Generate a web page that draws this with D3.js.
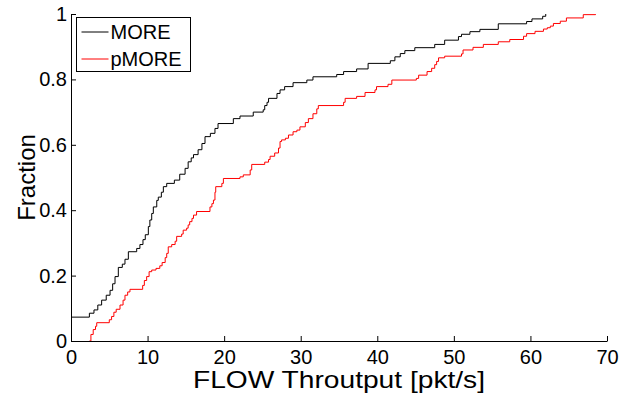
<!DOCTYPE html>
<html>
<head>
<meta charset="utf-8">
<script src="https://cdn.jsdelivr.net/npm/d3@7"></script>
<style>
  body { margin: 0; background: #fff; }
  text { font-family: Arial, "Liberation Sans", Helvetica, sans-serif; }
</style>
</head>
<body>
<div id="chart"></div>
<script>
const width = 619;
const height = 395;

// step points of the empirical CDFs (throughput, fraction)
const moreX = [0, 2.4, 3.0, 3.5, 4.0, 4.6, 5.1, 5.44, 5.75, 6.18, 6.7, 7.05, 7.49, 8.58, 9.0, 9.4, 9.7, 10.1, 10.3, 10.54,
  10.75, 11.2, 11.4, 11.8, 12.06, 12.5, 13.5, 14.2, 14.9, 15.3, 15.7, 16.0, 16.6, 17.1, 17.5, 18.2, 18.8, 19.2, 21.2, 22.07,
  23.8, 25.1, 25.3, 25.6, 25.8, 26.9, 27.3, 27.9, 29.0, 30.8, 31.6, 34.7, 35.6, 37.3, 38.8, 41.7, 42.3, 43.0, 43.6, 44.9,
  47.5, 48.8, 50.6, 51.0, 52.1, 53.4, 55.8, 59.5, 60.2, 61.6, 62.0];
const moreY = [0.073, 0.085, 0.095, 0.11, 0.125, 0.14, 0.155, 0.175, 0.197, 0.225, 0.235, 0.25, 0.273, 0.283, 0.295, 0.31, 0.325, 0.35, 0.37, 0.39,
  0.41, 0.43, 0.44, 0.455, 0.472, 0.482, 0.492, 0.51, 0.528, 0.548, 0.56, 0.57, 0.585, 0.604, 0.625, 0.635, 0.65, 0.665, 0.68, 0.688,
  0.70, 0.707, 0.72, 0.73, 0.742, 0.757, 0.768, 0.778, 0.79, 0.798, 0.808, 0.815, 0.824, 0.832, 0.849, 0.857, 0.869, 0.879, 0.888, 0.897,
  0.907, 0.92, 0.931, 0.938, 0.946, 0.953, 0.97, 0.977, 0.985, 0.993, 1.0];

const pmoreX = [2.4, 2.6, 2.9, 3.2, 3.36, 5.0, 5.3, 5.6, 5.9, 6.4, 6.8, 7.05, 7.4, 7.7, 9.36, 9.58, 9.88, 10.2, 10.54, 11.1,
  11.6, 11.9, 12.3, 12.5, 12.7, 13.15, 13.6, 13.8, 14.45, 14.65, 15.1, 15.3, 15.5, 15.8, 16.0, 16.4, 18.15, 18.4, 18.6, 18.8,
  18.9, 19.7, 19.9, 22.07, 22.5, 23.4, 23.6, 25.3, 25.8, 26.0, 26.6, 27.1, 27.3, 27.5, 28.0, 28.4, 29.0, 29.5, 29.9, 30.6,
  31.0, 31.6, 32.1, 32.3, 35.6, 35.8, 37.3, 38.4, 39.7, 39.9, 41.4, 41.9, 45.1, 45.4, 46.5, 47.1, 47.5, 47.75, 48.0, 48.8,
  51.0, 51.2, 52.5, 53.85, 55.8, 57.3, 59.1, 59.5, 60.6, 61.7, 62.2, 62.6, 63.0, 63.9, 64.7, 66.9, 68.5];
const pmoreY = [0.0, 0.02, 0.035, 0.045, 0.056, 0.065, 0.075, 0.088, 0.097, 0.11, 0.125, 0.14, 0.15, 0.158, 0.17, 0.185, 0.197, 0.212, 0.217, 0.222,
  0.23, 0.24, 0.255, 0.268, 0.288, 0.295, 0.305, 0.32, 0.327, 0.339, 0.345, 0.355, 0.365, 0.375, 0.385, 0.396, 0.41, 0.42, 0.431, 0.455,
  0.472, 0.482, 0.497, 0.502, 0.508, 0.523, 0.54, 0.547, 0.555, 0.565, 0.575, 0.59, 0.61, 0.615, 0.62, 0.63, 0.64, 0.645, 0.655, 0.668,
  0.68, 0.695, 0.71, 0.72, 0.73, 0.742, 0.748, 0.76, 0.768, 0.778, 0.785, 0.798, 0.803, 0.813, 0.824, 0.834, 0.845, 0.855, 0.866, 0.871,
  0.878, 0.89, 0.898, 0.907, 0.915, 0.922, 0.932, 0.94, 0.947, 0.954, 0.958, 0.963, 0.971, 0.978, 0.988, 0.998, 1.0];

const xTicks = [0, 10, 20, 30, 40, 50, 60, 70];
const yTicks = [0, 0.2, 0.4, 0.6, 0.8, 1];
const seriesNames = ["MORE", "pMORE"];
const seriesColors = ["#000000", "#ff0000"];

const margin = {top: 14, right: 12, bottom: 54, left: 71};
const innerW = width - margin.left - margin.right;
const innerH = height - margin.top - margin.bottom;

const svg = d3.select("#chart")
    .append("svg")
    .attr("width", width)
    .attr("height", height);

const g = svg.append("g").attr("transform", `translate(${margin.left},${margin.top})`);

const x = d3.scaleLinear().domain([0, 70]).range([0, innerW]);
const y = d3.scaleLinear().domain([0, 1]).range([innerH, 0]);

const line = d3.line()
    .x(d => x(d[0]))
    .y(d => y(d[1]))
    .curve(d3.curveStepAfter);

const series = [
    d3.zip(moreX, moreY),
    d3.zip(pmoreX, pmoreY)
];

series.forEach((pts, i) => {
    g.append("path")
        .datum(pts)
        .attr("fill", "none")
        .attr("stroke", seriesColors[i])
        .attr("stroke-width", 1)
        .attr("d", line);
});

// axes (ticks pointing inward, MATLAB style)
const xAxis = g.append("g")
    .attr("transform", `translate(0,${innerH})`)
    .call(d3.axisBottom(x).tickValues(xTicks).tickSizeInner(-5).tickSizeOuter(0).tickPadding(9));

const yAxis = g.append("g")
    .call(d3.axisLeft(y).tickValues(yTicks).tickFormat(d3.format("")).tickSizeInner(-5).tickSizeOuter(0).tickPadding(4));

[xAxis, yAxis].forEach(ax => {
    ax.selectAll("text").style("font-size", "20px").attr("fill", "#000");
    ax.selectAll("line").attr("stroke", "#000");
    ax.select(".domain").attr("stroke", "#000");
});

// axis titles
svg.append("text")
    .attr("x", margin.left + innerW / 2)
    .attr("y", 388)
    .attr("text-anchor", "middle")
    .attr("textLength", 292)
    .attr("lengthAdjust", "spacingAndGlyphs")
    .style("font-size", "24px")
    .text("FLOW Throutput [pkt/s]");

svg.append("text")
    .attr("transform", `translate(35,${margin.top + innerH / 2}) rotate(-90)`)
    .attr("text-anchor", "middle")
    .style("font-size", "24px")
    .text("Fraction");

// legend
const legend = svg.append("g").attr("transform", "translate(76.5,17.5)");
legend.append("rect")
    .attr("width", 114)
    .attr("height", 54)
    .attr("fill", "#fff")
    .attr("stroke", "#000")
    .attr("stroke-width", 1);

seriesNames.forEach((name, i) => {
    const ly = 14.5 + i * 27;
    legend.append("line")
        .attr("x1", 5).attr("x2", 32)
        .attr("y1", ly).attr("y2", ly)
        .attr("stroke", seriesColors[i])
        .attr("stroke-width", 1);
    legend.append("text")
        .attr("x", 34)
        .attr("y", ly)
        .attr("dy", "0.36em")
        .style("font-size", "20px")
        .text(name);
});
</script>
</body>
</html>
